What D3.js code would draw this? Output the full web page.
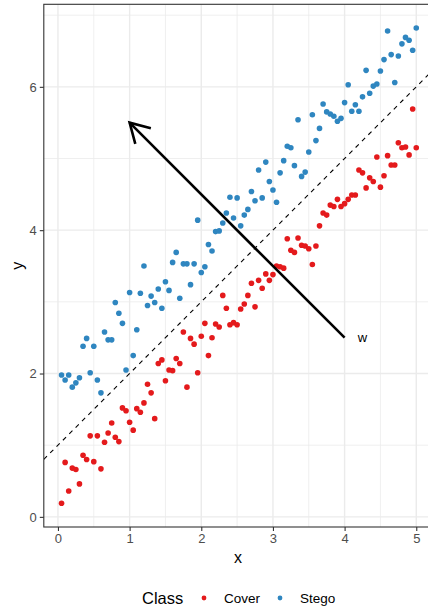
<!DOCTYPE html>
<html>
<head>
<meta charset="utf-8">
<script src="https://cdn.jsdelivr.net/npm/d3@7"></script>
<style>
  html, body { margin: 0; padding: 0; background: #fff; }
  svg { display: block; font-family: "Liberation Sans", Arial, sans-serif; }
</style>
</head>
<body>
<svg id="chart" width="428" height="607"></svg>
<script>
// x positions shared by both classes
const xs = [0.05, 0.10, 0.15, 0.20, 0.25, 0.30, 0.35, 0.40, 0.45, 0.50,
  0.55, 0.60, 0.65, 0.70, 0.75, 0.80, 0.85, 0.90, 0.95, 1.00,
  1.05, 1.10, 1.15, 1.20, 1.25, 1.30, 1.35, 1.40, 1.45, 1.50,
  1.55, 1.60, 1.65, 1.70, 1.75, 1.80, 1.85, 1.90, 1.95, 2.00,
  2.05, 2.10, 2.15, 2.20, 2.25, 2.30, 2.35, 2.40, 2.45, 2.50,
  2.55, 2.60, 2.65, 2.70, 2.75, 2.80, 2.85, 2.90, 2.95, 3.00,
  3.05, 3.10, 3.15, 3.20, 3.25, 3.30, 3.35, 3.40, 3.45, 3.50,
  3.55, 3.60, 3.65, 3.70, 3.75, 3.80, 3.85, 3.90, 3.95, 4.00,
  4.05, 4.10, 4.15, 4.20, 4.25, 4.30, 4.35, 4.40, 4.45, 4.50,
  4.55, 4.60, 4.65, 4.70, 4.75, 4.80, 4.85, 4.90, 4.95, 5.00];

const coverY = [0.19, 0.76, 0.36, 0.68, 0.66, 0.46, 0.86, 0.80, 1.13, 0.77,
  1.13, 0.67, 1.04, 1.17, 1.31, 1.11, 1.05, 1.52, 1.48, 1.32,
  1.21, 1.51, 1.46, 1.59, 1.85, 1.73, 1.37, 2.14, 2.19, 1.90,
  2.05, 2.04, 2.21, 2.14, 2.58, 1.81, 2.49, 2.41, 2.01, 2.52,
  2.70, 2.25, 2.50, 2.69, 2.65, 3.09, 2.91, 2.68, 2.71, 2.68,
  2.90, 2.97, 3.09, 3.26, 2.93, 3.30, 3.19, 3.39, 3.30, 3.38,
  3.50, 3.49, 3.47, 3.88, 3.72, 3.69, 3.89, 3.79, 3.78, 3.74,
  3.52, 3.78, 4.06, 4.24, 4.21, 4.35, 4.33, 4.43, 4.33, 4.37,
  4.43, 4.49, 4.49, 4.84, 4.80, 4.59, 4.73, 4.68, 5.02, 4.60,
  4.76, 5.04, 4.91, 4.91, 5.22, 5.15, 5.16, 5.05, 5.69, 5.15];

const stegoY = [1.98, 1.91, 1.98, 1.81, 1.87, 1.94, 2.38, 2.49, 2.01, 2.38,
  1.91, 1.73, 2.58, 2.47, 2.47, 2.99, 2.84, 2.70, 2.05, 3.13,
  2.25, 2.61, 3.12, 3.50, 2.95, 3.08, 2.99, 3.18, 2.91, 3.28,
  3.16, 3.55, 3.69, 3.05, 3.53, 3.53, 3.24, 3.53, 4.14, 3.41,
  3.49, 3.80, 3.71, 3.98, 3.99, 4.10, 4.24, 4.46, 4.17, 4.45,
  4.06, 4.21, 4.29, 4.54, 4.41, 4.84, 4.45, 4.95, 4.68, 4.56,
  4.39, 4.80, 4.97, 5.17, 5.15, 4.90, 5.54, 4.75, 4.81, 5.09,
  5.61, 5.25, 5.42, 5.76, 5.65, 5.62, 5.59, 5.52, 5.56, 5.78,
  6.03, 5.66, 5.75, 5.66, 5.86, 6.23, 5.91, 6.01, 6.04, 6.22,
  6.38, 6.78, 6.45, 6.06, 6.43, 6.60, 6.69, 6.65, 6.51, 6.82];

const classes = ['Cover', 'Stego'];
const classColors = ['#e41a1c', '#2f86c0'];

const xTicks = [0, 1, 2, 3, 4, 5];
const xMinor = [0.5, 1.5, 2.5, 3.5, 4.5];
const yTicks = [0, 2, 4, 6];
const yMinor = [1, 3, 5, 7];

// separating line y = a + b x and the arrow w
const lineIntercept = 1;
const lineSlope = 1;
const arrowFrom = [4, 2.5];
const arrowTo = [1, 5.5];
const arrowLabel = 'w';
const arrowLabelPos = [4.25, 2.5];

const svg = d3.select('#chart');

const panel = { left: 43.8, top: 4.3, right: 434.0, bottom: 527.0 };

// ggplot style 5% expansion around the data range
const xExt = d3.extent(xs);
const yExt = d3.extent(coverY.concat(stegoY));
const xPad = (xExt[1] - xExt[0]) * 0.05;
const yPad = (yExt[1] - yExt[0]) * 0.05;

const x = d3.scaleLinear().domain([xExt[0] - xPad, xExt[1] + xPad]).range([panel.left, panel.right]);
const y = d3.scaleLinear().domain([yExt[0] - yPad, yExt[1] + yPad]).range([panel.bottom, panel.top]);

const defs = svg.append('defs');
defs.append('clipPath').attr('id', 'clip')
  .append('rect')
  .attr('x', panel.left).attr('y', panel.top)
  .attr('width', panel.right - panel.left).attr('height', panel.bottom - panel.top);

// grid
const gGrid = svg.append('g');
gGrid.selectAll('.xminor').data(xMinor).enter().append('line')
  .attr('x1', d => x(d)).attr('x2', d => x(d))
  .attr('y1', panel.top).attr('y2', panel.bottom)
  .attr('stroke', '#ebebeb').attr('stroke-width', 0.8);
gGrid.selectAll('.yminor').data(yMinor.filter(d => y(d) > panel.top)).enter().append('line')
  .attr('y1', d => y(d)).attr('y2', d => y(d))
  .attr('x1', panel.left).attr('x2', panel.right)
  .attr('stroke', '#ebebeb').attr('stroke-width', 0.8);
gGrid.selectAll('.xmajor').data(xTicks).enter().append('line')
  .attr('x1', d => x(d)).attr('x2', d => x(d))
  .attr('y1', panel.top).attr('y2', panel.bottom)
  .attr('stroke', '#ebebeb').attr('stroke-width', 1.4);
gGrid.selectAll('.ymajor').data(yTicks).enter().append('line')
  .attr('y1', d => y(d)).attr('y2', d => y(d))
  .attr('x1', panel.left).attr('x2', panel.right)
  .attr('stroke', '#ebebeb').attr('stroke-width', 1.4);

const gPlot = svg.append('g').attr('clip-path', 'url(#clip)');

// dashed separating line
const xd = x.domain();
gPlot.append('line')
  .attr('x1', x(xd[0])).attr('y1', y(lineIntercept + lineSlope * xd[0]))
  .attr('x2', x(xd[1])).attr('y2', y(lineIntercept + lineSlope * xd[1]))
  .attr('stroke', '#000').attr('stroke-width', 1.1)
  .attr('stroke-dasharray', '4.5,4.5');

// points
const points = [];
xs.forEach((v, i) => points.push({ x: v, y: coverY[i], c: 0 }));
xs.forEach((v, i) => points.push({ x: v, y: stegoY[i], c: 1 }));

gPlot.selectAll('.pt').data(points).enter().append('circle')
  .attr('cx', d => x(d.x)).attr('cy', d => y(d.y))
  .attr('r', 2.8)
  .attr('fill', d => classColors[d.c]);

// arrow
const ax1 = x(arrowFrom[0]), ay1 = y(arrowFrom[1]);
const ax2 = x(arrowTo[0]), ay2 = y(arrowTo[1]);
gPlot.append('line')
  .attr('x1', ax1).attr('y1', ay1).attr('x2', ax2).attr('y2', ay2)
  .attr('stroke', '#000').attr('stroke-width', 2.6);
const ang = Math.atan2(ay1 - ay2, ax1 - ax2);
const headLen = 22, headAng = Math.PI / 6;
const head = [ang - headAng, ang + headAng].map(a => [ax2 + headLen * Math.cos(a), ay2 + headLen * Math.sin(a)]);
gPlot.append('path')
  .attr('d', `M${head[0][0]},${head[0][1]}L${ax2},${ay2}L${head[1][0]},${head[1][1]}`)
  .attr('fill', 'none').attr('stroke', '#000').attr('stroke-width', 2.6)
  .attr('stroke-linejoin', 'miter');

gPlot.append('text')
  .attr('x', x(arrowLabelPos[0])).attr('y', y(arrowLabelPos[1]))
  .attr('dy', '0.32em')
  .attr('text-anchor', 'middle')
  .attr('font-size', 13)
  .attr('fill', '#000')
  .text(arrowLabel);

// panel border
svg.append('rect')
  .attr('x', panel.left).attr('y', panel.top)
  .attr('width', panel.right - panel.left).attr('height', panel.bottom - panel.top)
  .attr('fill', 'none').attr('stroke', '#333333').attr('stroke-width', 1.1);

// axes
const xAxis = d3.axisBottom(x).tickValues(xTicks).tickSize(4).tickPadding(3).tickFormat(d3.format('d'));
const yAxis = d3.axisLeft(y).tickValues(yTicks).tickSize(4).tickPadding(3).tickFormat(d3.format('d'));

const gx = svg.append('g').attr('transform', `translate(0,${panel.bottom})`).call(xAxis);
const gy = svg.append('g').attr('transform', `translate(${panel.left},0)`).call(yAxis);
[gx, gy].forEach(g => {
  g.select('.domain').remove();
  g.selectAll('.tick line').attr('stroke', '#333333').attr('stroke-width', 1.1);
  g.selectAll('.tick text').attr('fill', '#4d4d4d').attr('font-size', 13)
    .attr('font-family', '"Liberation Sans", Arial, sans-serif');
});

svg.append('text')
  .attr('x', (panel.left + 428) / 2 + 2).attr('y', 563)
  .attr('text-anchor', 'middle').attr('font-size', 16).attr('fill', '#000')
  .text('x');
svg.append('text')
  .attr('transform', `translate(23,${(panel.top + panel.bottom) / 2}) rotate(-90)`)
  .attr('text-anchor', 'middle').attr('font-size', 16).attr('fill', '#000')
  .text('y');

// legend
const gLeg = svg.append('g').attr('transform', 'translate(0,598)');
gLeg.append('text')
  .attr('x', 142).attr('y', 0).attr('dy', '0.35em')
  .attr('font-size', 16.5).attr('fill', '#000')
  .text('Class');
const legX = [204, 280];
classes.forEach((c, i) => {
  gLeg.append('circle').attr('cx', legX[i]).attr('cy', 0).attr('r', 2.4).attr('fill', classColors[i]);
  gLeg.append('text')
    .attr('x', legX[i] + 20).attr('y', 0).attr('dy', '0.35em')
    .attr('font-size', 13.5).attr('fill', '#000')
    .text(c);
});
</script>
</body>
</html>
